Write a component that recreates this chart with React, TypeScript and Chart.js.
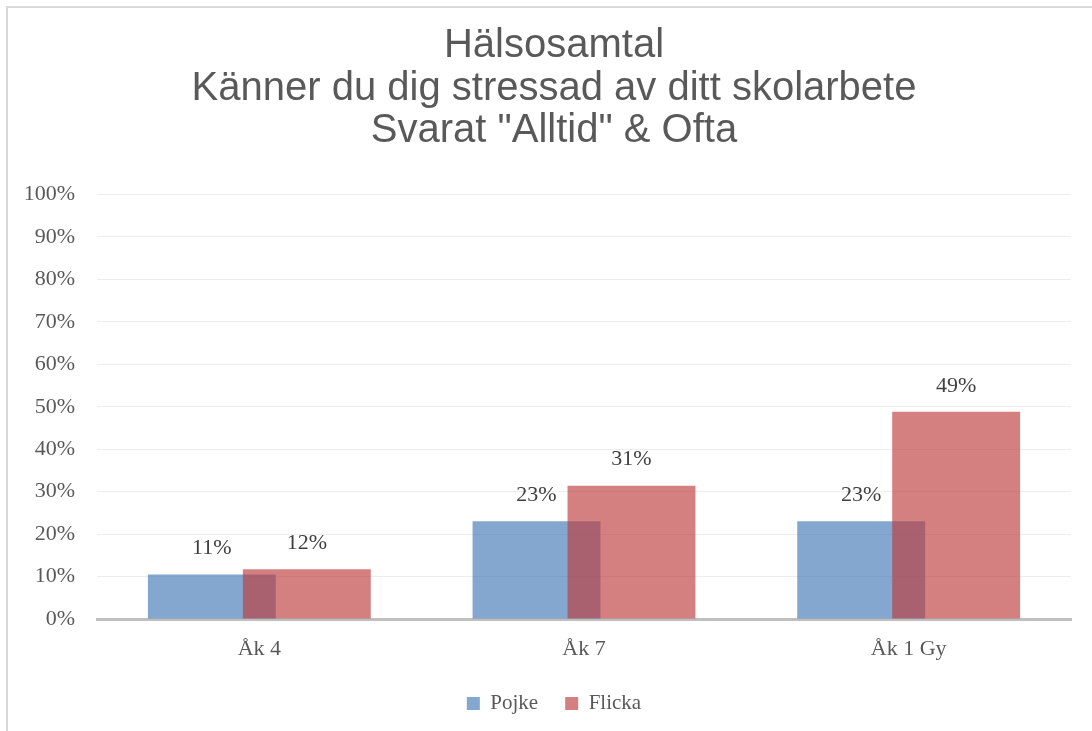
import React, { useEffect, useRef } from "react";
import { Chart, registerables } from "chart.js";

Chart.register(...registerables);

const categories = ["Åk 4", "Åk 7", "Åk 1 Gy"];
const pojke = [10.5, 23.0, 23.0];
const flicka = [11.7, 31.4, 48.8];
const titleLines = ["Hälsosamtal", "Känner du dig stressad av ditt skolarbete", 'Svarat "Alltid" & Ofta'];

const SERIF = "'Liberation Serif', 'Times New Roman', serif";
const SANS = "'Liberation Sans', Arial, sans-serif";

// Draw the first dataset (Pojke) underneath, so the second (Flicka) overlaps it like in Excel.
const drawOrder = {
  id: "drawOrder",
  beforeDatasetsDraw(chart: any) {
    const meta = chart.getDatasetMeta(0);
    if (meta && meta.visible !== false) meta.controller.draw();
  },
  beforeDatasetDraw(_chart: any, args: any) {
    if (args.index === 0) return false;
  },
};

// The original chart's frame is wider on the left than the plot's axis area,
// so title and legend are centred slightly to the right.
const centreShift = {
  id: "centreShift",
  afterLayout(chart: any) {
    const shift = 37;
    if (chart.titleBlock) chart.titleBlock.left += shift;
    if (chart.legend) chart.legend.left += shift;
  },
};

const valueLabels = {
  id: "valueLabels",
  afterDatasetsDraw(chart: any) {
    const ctx = chart.ctx;
    ctx.save();
    ctx.font = `22px ${SERIF}`;
    ctx.fillStyle = "#404040";
    ctx.textAlign = "center";
    ctx.textBaseline = "bottom";
    chart.data.datasets.forEach((ds: any, i: number) => {
      const meta = chart.getDatasetMeta(i);
      meta.data.forEach((el: any, j: number) => {
        const v = ds.data[j];
        ctx.fillText(Math.round(v) + "%", el.x, el.y - 15);
      });
    });
    ctx.restore();
  },
};

export default function App() {
  const ref = useRef<HTMLCanvasElement>(null);
  useEffect(() => {
    if (!ref.current) return;
    const chart = new Chart(ref.current, {
      type: "bar",
      data: {
        labels: categories,
        datasets: [
          {
            label: "Pojke",
            data: pojke,
            backgroundColor: "rgba(66,120,181,0.65)",
            borderWidth: 0,
            categoryPercentage: 0.585,
            barPercentage: 1.347,
          },
          {
            label: "Flicka",
            data: flicka,
            backgroundColor: "rgba(190,60,60,0.65)",
            borderWidth: 0,
            categoryPercentage: 0.585,
            barPercentage: 1.347,
          },
        ],
      },
      options: {
        responsive: false,
        animation: false,
        layout: { padding: { top: 8, left: 0, right: 21, bottom: 7 } },
        plugins: {
          title: {
            display: true,
            text: titleLines,
            color: "#595959",
            font: { family: SANS, size: 40, weight: "normal", lineHeight: 1.0625 },
            padding: { top: 17, bottom: 42 },
          },
          legend: {
            position: "bottom",
            labels: {
              color: "#595959",
              font: { family: SERIF, size: 21 },
              boxWidth: 13,
              boxHeight: 13,
              padding: 27,
            },
          },
          tooltip: { enabled: false },
        },
        scales: {
          x: {
            z: 1,
            grid: { display: false, drawTicks: false },
            border: { display: true, color: "#bfbfbf", width: 3 },
            ticks: { color: "#595959", font: { family: SERIF, size: 22 }, padding: 17 },
            afterFit: (scale: any) => {
              scale.height = 47;
            },
          },
          y: {
            min: 0,
            max: 100,
            grid: { color: "#ededed", lineWidth: 1, drawTicks: false },
            border: { display: false },
            ticks: {
              stepSize: 10,
              color: "#595959",
              font: { family: SERIF, size: 22 },
              padding: 22,
              callback: (v: any) => v + "%",
            },
            afterFit: (scale: any) => {
              scale.width = 97;
            },
          },
        },
      },
      plugins: [drawOrder, centreShift, valueLabels],
    });
    return () => chart.destroy();
  }, []);
  return (
    <div style={{ position: "absolute", left: 0, top: 0, width: 1092, height: 731, overflow: "hidden", background: "#fff" }}>
      <canvas ref={ref} width={1092} height={731} style={{ display: "block" }} />
      <div
        style={{
          position: "absolute",
          left: 6,
          top: 6,
          width: 1200,
          height: 900,
          border: "2px solid #d9d9d9",
          pointerEvents: "none",
        }}
      />
    </div>
  );
}
